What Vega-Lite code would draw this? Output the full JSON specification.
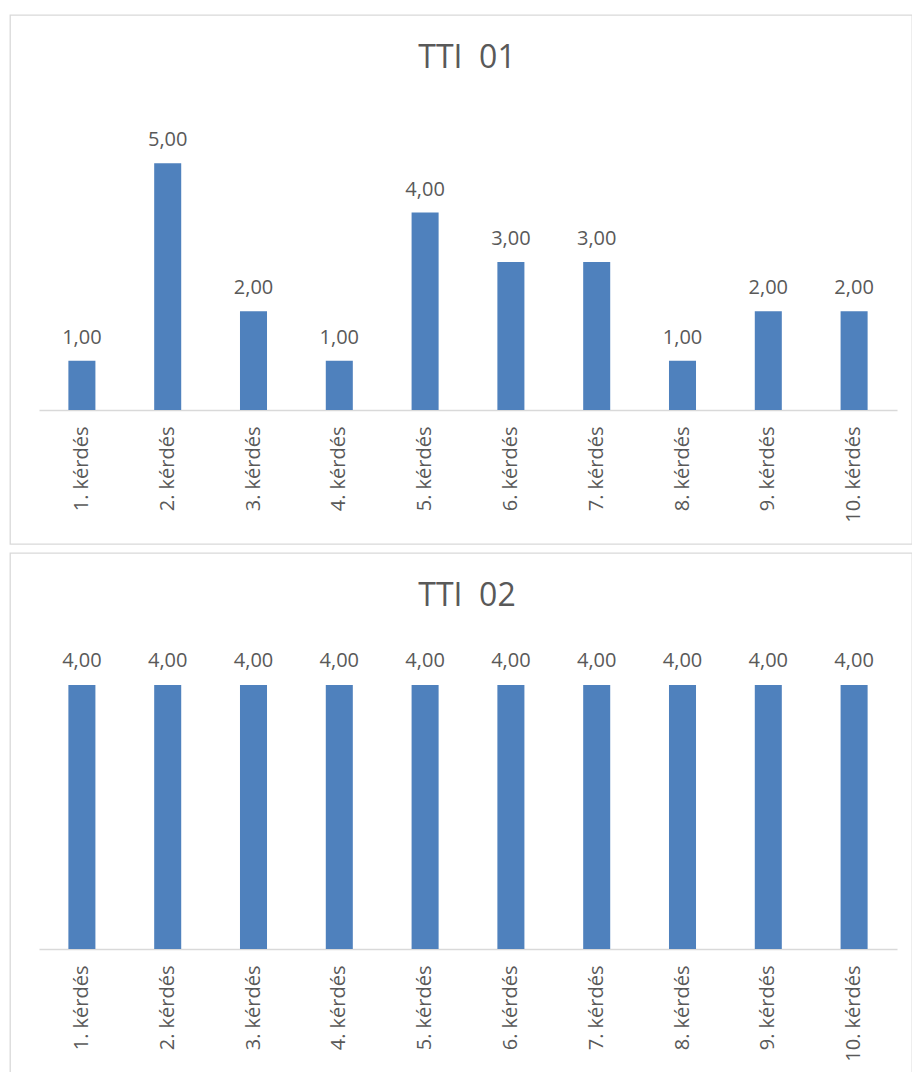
{
  "$schema": "https://vega.github.io/schema/vega-lite/v6.json",
  "padding": {"left": 9, "top": 14, "right": 0, "bottom": 0},
  "background": "white",
  "spacing": 7,
  "datasets": {
    "tti01": [
      {"kerdes": "1. kérdés", "ertek": 1},
      {"kerdes": "2. kérdés", "ertek": 5},
      {"kerdes": "3. kérdés", "ertek": 2},
      {"kerdes": "4. kérdés", "ertek": 1},
      {"kerdes": "5. kérdés", "ertek": 4},
      {"kerdes": "6. kérdés", "ertek": 3},
      {"kerdes": "7. kérdés", "ertek": 3},
      {"kerdes": "8. kérdés", "ertek": 1},
      {"kerdes": "9. kérdés", "ertek": 2},
      {"kerdes": "10. kérdés", "ertek": 2}
    ],
    "tti02": [
      {"kerdes": "1. kérdés", "ertek": 4},
      {"kerdes": "2. kérdés", "ertek": 4},
      {"kerdes": "3. kérdés", "ertek": 4},
      {"kerdes": "4. kérdés", "ertek": 4},
      {"kerdes": "5. kérdés", "ertek": 4},
      {"kerdes": "6. kérdés", "ertek": 4},
      {"kerdes": "7. kérdés", "ertek": 4},
      {"kerdes": "8. kérdés", "ertek": 4},
      {"kerdes": "9. kérdés", "ertek": 4},
      {"kerdes": "10. kérdés", "ertek": 4}
    ]
  },
  "config": {
    "view": {"stroke": "#D9D9D9", "strokeWidth": 1.3},
    "font": "Open Sans"
  },
  "vconcat": [
    {
      "width": 902,
      "height": 529,
      "title": {"text": "TTI\u00a0 01", "fontSize": 32, "font": "Open Sans", "fontWeight": "normal", "color": "#595959", "anchor": "middle", "baseline": "alphabetic", "offset": 0, "dy": 85, "dx": 6},
      "data": {"name": "tti01"},
      "transform": [{"calculate": "replace(format(datum.ertek, '.2f'), '.', ',')", "as": "cimke"}],
      "encoding": {
        "x": {"field": "kerdes", "type": "nominal", "sort": null,
          "scale": {"range": [29, 887], "paddingInner": 0.685, "paddingOuter": 0.3425},
          "axis": {"title": null, "labelAngle": 270, "labelFontSize": 20, "labelColor": "#595959", "labelFont": "Open Sans", "ticks": false, "tickSize": 0, "labelPadding": 16, "domainColor": "#D9D9D9", "domainWidth": 1.5, "offset": -134, "grid": false, "labelLimit": 0}},
        "y": {"field": "ertek", "type": "quantitative", "scale": {"domain": [0, 8], "range": [395, 0]}, "axis": null}
      },
      "layer": [
        {"mark": {"type": "bar", "color": "#4F81BD"}},
        {"mark": {"type": "text", "baseline": "alphabetic", "dy": -17, "fontSize": 20, "color": "#595959", "font": "Open Sans"},
         "encoding": {"text": {"field": "cimke"}}}
      ]
    },
    {
      "width": 902,
      "height": 520,
      "title": {"text": "TTI\u00a0 02", "fontSize": 32, "font": "Open Sans", "fontWeight": "normal", "color": "#595959", "anchor": "middle", "baseline": "alphabetic", "offset": 0, "dy": 85, "dx": 6},
      "data": {"name": "tti02"},
      "transform": [{"calculate": "replace(format(datum.ertek, '.2f'), '.', ',')", "as": "cimke"}],
      "encoding": {
        "x": {"field": "kerdes", "type": "nominal", "sort": null,
          "scale": {"range": [29, 887], "paddingInner": 0.685, "paddingOuter": 0.3425},
          "axis": {"title": null, "labelAngle": 270, "labelFontSize": 20, "labelColor": "#595959", "labelFont": "Open Sans", "ticks": false, "tickSize": 0, "labelPadding": 16, "domainColor": "#D9D9D9", "domainWidth": 1.5, "offset": -124, "grid": false, "labelLimit": 0}},
        "y": {"field": "ertek", "type": "quantitative", "scale": {"domain": [0, 6], "range": [396, 0]}, "axis": null}
      },
      "layer": [
        {"mark": {"type": "bar", "color": "#4F81BD"}},
        {"mark": {"type": "text", "baseline": "alphabetic", "dy": -18, "fontSize": 20, "color": "#595959", "font": "Open Sans"},
         "encoding": {"text": {"field": "cimke"}}}
      ]
    }
  ]
}
